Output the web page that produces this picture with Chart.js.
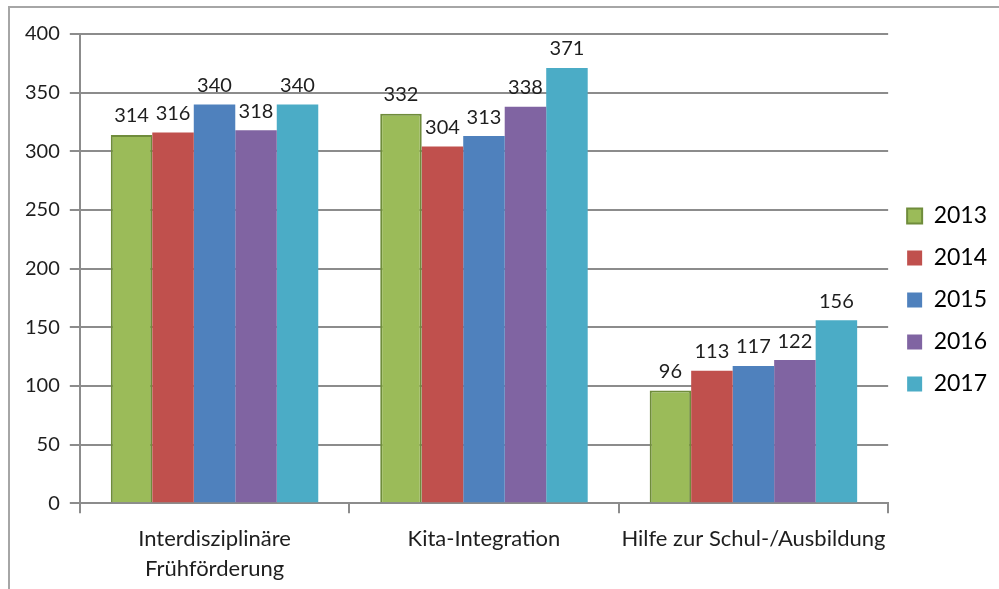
<!DOCTYPE html>
<html lang="de">
  <head>
    <meta charset="UTF-8" />
    <title>Leistungen 2013–2017</title>
    <script src="https://cdn.jsdelivr.net/npm/chart.js"></script>
    <style>
      html, body { margin: 0; padding: 0; background: #fff; }
      #wrap { position: relative; width: 999px; height: 589px; }
      #frame {
        position: absolute; left: 8px; top: 6px; right: 0; bottom: 0;
        border-top: 2px solid #a6a6a6; border-left: 2px solid #a6a6a6;
        pointer-events: none;
      }
    </style>
  </head>
  <body>
    <div id="wrap">
      <canvas id="chart" width="999" height="589"></canvas>
      <div id="frame"></div>
    </div>

    <script>
      // -------- Daten -------- //
      const categories = [["Interdisziplinäre", "Frühförderung"], "Kita-Integration", "Hilfe zur Schul-/Ausbildung"];
      const years = ["2013", "2014", "2015", "2016", "2017"];
      const values2013 = [314, 332, 96];
      const values2014 = [316, 304, 113];
      const values2015 = [340, 313, 117];
      const values2016 = [318, 338, 122];
      const values2017 = [340, 371, 156];
      const yTicks = [0, 50, 100, 150, 200, 250, 300, 350, 400];

      const series = [values2013, values2014, values2015, values2016, values2017];
      const colors = ["#9bbb59", "#c0504d", "#4f81bd", "#8064a2", "#4bacc6"];
      const borders = ["#6f8c3b", "#c0504d", "#4f81bd", "#8064a2", "#4bacc6"];

      const FONT = "Lato, 'Open Sans', sans-serif";

      // -------- Werte über den Balken -------- //
      const valueLabels = {
        id: "valueLabels",
        afterDatasetsDraw(chart) {
          const ctx = chart.ctx;
          ctx.save();
          ctx.font = "20px " + FONT;
          ctx.fillStyle = "#1e1e1e";
          ctx.textAlign = "center";
          ctx.textBaseline = "bottom";
          chart.data.datasets.forEach((ds, i) => {
            chart.getDatasetMeta(i).data.forEach((bar, j) => {
              ctx.fillText(ds.data[j], bar.x, bar.y - 9);
            });
          });
          ctx.restore();
        },
      };

      new Chart(document.getElementById("chart"), {
        type: "bar",
        data: {
          labels: categories,
          datasets: years.map((y, i) => ({
            label: y,
            data: series[i],
            backgroundColor: colors[i],
            borderColor: borders[i],
            borderWidth: i === 0 ? 2 : 0,
            categoryPercentage: 0.77,
            barPercentage: 1,
          })),
        },
        options: {
          responsive: false,
          animation: false,
          // unten negativ: ticks.padding zählt doppelt, so rutschen die Achsenbeschriftungen tiefer
          layout: { padding: { left: 15, top: 5, right: 2, bottom: -6 } },
          plugins: {
            tooltip: { enabled: false },
            // leerer Titel schiebt nur die Zeichenfläche nach unten, nicht die Legende
            title: { display: true, text: "", font: { size: 10 }, padding: { top: 0, bottom: 17 } },
            legend: {
              position: "right",
              labels: {
                color: "#1e1e1e",
                font: { family: FONT, size: 23 },
                boxWidth: 15,
                boxHeight: 15,
                padding: 19,
                generateLabels: (chart) =>
                  chart.data.datasets.map((ds, i) => ({
                    text: ds.label,
                    fillStyle: colors[i],
                    strokeStyle: borders[i],
                    lineWidth: i === 0 ? 2 : 0,
                    datasetIndex: i,
                  })),
              },
            },
          },
          scales: {
            x: {
              grid: { drawOnChartArea: false, drawTicks: true, tickLength: 10, color: "#8c8c8c", lineWidth: 2, offset: true },
              border: { color: "#8c8c8c", width: 2 },
              ticks: { color: "#1e1e1e", font: { family: FONT, size: 22, lineHeight: 1.37 }, padding: 10.75, maxRotation: 0, autoSkip: false },
            },
            y: {
              min: 0,
              max: 400,
              afterBuildTicks: (axis) => { axis.ticks = yTicks.map((v) => ({ value: v })); },
              grid: { color: "#8c8c8c", lineWidth: 2, tickLength: 10 },
              border: { color: "#8c8c8c", width: 2 },
              ticks: { color: "#1e1e1e", font: { family: FONT, size: 20 }, padding: 10 },
            },
          },
        },
        plugins: [valueLabels],
      });
    </script>
  </body>
</html>
